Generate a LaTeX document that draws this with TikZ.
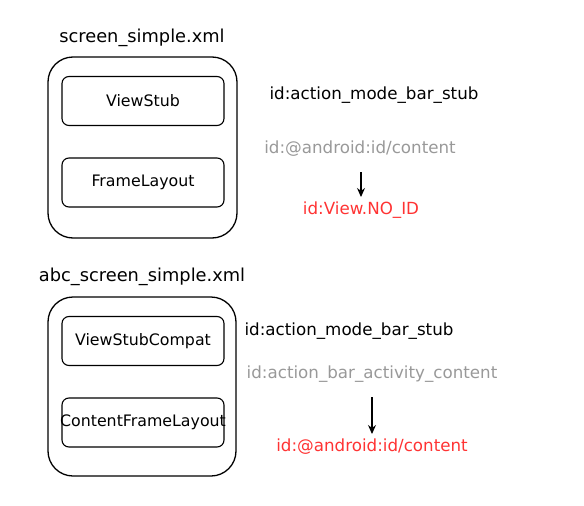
\documentclass[tikz,border=0pt]{standalone}
\usepackage{fontspec}
\setmainfont{DejaVu Sans}
\usetikzlibrary{arrows.meta}
\definecolor{grayt}{HTML}{999999}
\definecolor{redt}{HTML}{FF3333}
\begin{document}
\begin{tikzpicture}[x=1pt,y=-1pt,
  outer/.style={draw=black, line width=1.3pt, rounded corners=25pt},
  inner/.style={draw=black, line width=1.1pt, rounded corners=7pt, minimum width=162pt, minimum height=49pt, inner sep=0pt},
  itext/.style={font=\fontsize{15.8}{18}\selectfont, inner sep=0pt},
  title/.style={font=\fontsize{17.8}{20}\selectfont, inner sep=0pt},
  lbl/.style={font=\fontsize{16.7}{19}\selectfont, inner sep=0pt},
  arr/.style={-{Stealth[length=9pt,width=8pt]}, line width=1.1pt}]
\useasboundingbox (0,0) rectangle (584,506);
% top group
\node[title] (t1) at (142,38) {screen\_simple.xml};
\draw[outer] (48,57) rectangle (237,238);
\node[inner] (vs) at (143,101) {};
\node[itext] (vst) at (vs.center) {ViewStub};
\node[inner] (fl) at (143,182.5) {};
\node[itext] (flt) at (fl.center) {FrameLayout};
\node[lbl] (a1) at (374,95) {id:action\_mode\_bar\_stub};
\node[lbl, text=grayt] (c1) at (360,149) {id:@android:id/content};
\node[lbl, text=redt] (n1) at (361,210) {id:View.NO\_ID};
\coordinate (s1) at (361,172);
\coordinate (e1) at (361,197);
\draw[arr] (s1) -- (e1);
% bottom group
\node[title] (t2) at (142,277) {abc\_screen\_simple.xml};
\draw[outer] (48,297) rectangle (236,476);
\node[inner] (vsc) at (143,341) {};
\node[itext] (vsct) at (vsc.center) {ViewStubCompat};
\node[inner] (cfl) at (143,422.5) {};
\node[itext] (cflt) at (cfl.center) {ContentFrameLayout};
\node[lbl] (a2) at (349,331) {id:action\_mode\_bar\_stub};
\node[lbl, text=grayt] (c2) at (372,374) {id:action\_bar\_activity\_content};
\node[lbl, text=redt] (n2) at (372,447) {id:@android:id/content};
\coordinate (s2) at (372,397);
\coordinate (e2) at (372,434);
\draw[arr] (s2) -- (e2);
\end{tikzpicture}
\end{document}
